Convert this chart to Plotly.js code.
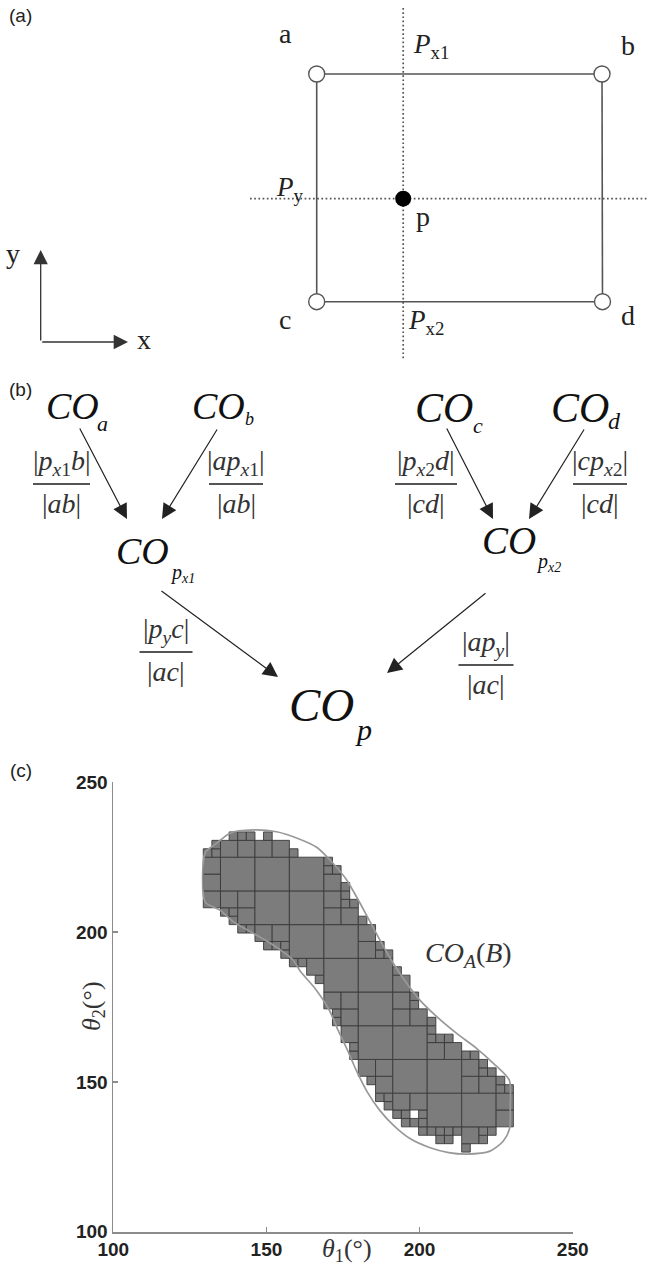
<!DOCTYPE html>
<html><head><meta charset="utf-8">
<script src="https://cdn.plot.ly/plotly-3.0.1.min.js"></script>
<style>html,body{margin:0;padding:0;background:#fff}</style>
</head><body>
<div id="chart" style="width:647px;height:1274px"></div>
<script>
// ================= DATA =================
// ---- Panel (a): grid cell corners, interpolation point (page units) ----
const cornerNames = ['a', 'b', 'c', 'd'];
const cornerX = [316.7, 602.0, 316.7, 602.5];
const cornerY = [74, 74, 301.7, 301.7];
const pointP = [403.2, 198.7];
const dottedVSpan = [8, 360];     // vertical dotted line extent (y)
const dottedHSpan = [250, 647];   // horizontal dotted line extent (x)
const labelTextA = ['a', 'b', 'c', 'd', 'p', '<i>P</i><sub>x1</sub>', '<i>P</i><sub>y</sub>', '<i>P</i><sub>x2</sub>', 'y', 'x'];
const labelXA = [285.5, 627.5, 285, 628, 422.5, 431, 290, 426, 13, 144];
const labelYA = [33, 45, 319, 315, 216, 46, 189, 322, 253, 339];
const axisOrigin = [40.7, 342];
const axisTips = [[40.7, 250], [128, 342]];

// ---- Panel (b): interpolation tree ----
const coLeft = [45, 191, 414, 550, 115, 481, 288];
const coMidY = [405.5, 405.5, 408, 408, 551, 540, 705];
const coSize = [38, 38, 42, 42, 38, 39, 47];
const subText = ['a', 'b', 'c', 'd', '<i>p</i><sub><i>x</i>1</sub>', '<i>p</i><sub><i>x</i>2</sub>', '<i>p</i>'];
const subLeft = [96, 244, 472, 607, 169, 535, 354];
const subMidY = [423, 419, 425, 421, 573, 562, 729];
const subSize = [22, 18, 22, 24, 20, 20, 30];

const fracNum = ['|<i>p</i><sub><i>x</i>1</sub><i>b</i>|', '|<i>ap</i><sub><i>x</i>1</sub>|',
                 '|<i>p</i><sub><i>x</i>2</sub><i>d</i>|', '|<i>cp</i><sub><i>x</i>2</sub>|',
                 '|<i>p</i><sub><i>y</i></sub><i>c</i>|', '|<i>ap</i><sub><i>y</i></sub>|'];
const fracDen = ['|<i>ab</i>|', '|<i>ab</i>|', '|<i>cd</i>|', '|<i>cd</i>|', '|<i>ac</i>|', '|<i>ac</i>|'];
const fracX = [61.5, 236, 426, 600, 166, 486];
const fracLineY = [484, 484, 484, 484, 652, 665];
const fracHalfW = [28.5, 27, 31, 27, 26.5, 27.5];

const arrowTailX = [79, 218, 446, 585, 160, 487];
const arrowTailY = [427, 428, 427, 428, 590, 592];
const arrowHeadX = [127, 162, 493, 529, 278, 387];
const arrowHeadY = [519, 519, 519, 519, 677, 673];

// ---- Panel (c): configuration obstacle CO_A(B), theta1/theta2 in degrees ----
const CELL = 2.8125;               // finest cell size (deg)
const colLeft = [129.375,132.1875,135,137.8125,140.625,143.4375,146.25,149.0625,151.875,154.6875,
  157.5,160.3125,163.125,165.9375,168.75,171.5625,174.375,177.1875,180,182.8125,185.625,188.4375,
  191.25,194.0625,196.875,199.6875,202.5,205.3125,208.125,210.9375,213.75,216.5625,219.375,222.1875,225,227.8125];
const colTop = [227.8125,230.625,230.625,233.4375,233.4375,233.4375,230.625,233.4375,230.625,230.625,
  227.8125,225,225,225,225,222.1875,216.5625,210.9375,205.3125,202.5,196.875,194.0625,
  188.4375,185.625,180,174.375,171.5625,165.9375,165.9375,163.125,160.3125,160.3125,157.5,154.6875,151.875,149.0625];
const colBottom = [208.125,208.125,205.3125,202.5,199.6875,199.6875,196.875,194.0625,194.0625,191.25,
  188.4375,188.4375,185.625,182.8125,174.375,168.75,163.125,157.5,151.875,149.0625,143.4375,140.625,
  137.8125,135,135,132.1875,132.1875,129.375,129.375,132.1875,126.5625,129.375,129.375,132.1875,135,135];
const holes = [[198.28, 139.22]];
const outlineX = [130.0,133.7,138.1,145.7,153.3,160.9,166.4,171.8,176.2,180.0,183.8,187.6,191.4,195.8,200.1,205.6,
  212.1,218.6,224.1,229.3,229.6,229.4,227.3,223.0,215.4,209.5,203.0,197.0,191.5,187.0,183.0,179.5,176.5,173.5,
  170.5,166.0,161.0,158.7,152.2,145.7,139.1,134.8,130.0,130.0];
const outlineY = [226.5,229.6,233.0,234.1,233.5,231.0,228.3,222.9,217.4,210.7,203.5,196.3,189.6,182.9,177.3,171.8,
  166.2,161.2,156.2,150.6,141.7,134.5,130.2,126.9,125.9,126.4,128.2,131.0,135.5,140.5,146.5,153.5,160.5,167.0,
  174.0,181.0,187.0,190.7,195.7,199.6,203.5,207.4,210.0,226.5];
const tickVals = [100, 150, 200, 250];
const regionLabel = {x: 216.1, y: 192.4, text: '<i>CO</i><sub><i>A</i></sub>(<i>B</i>)'};

// ================= BUILD =================
const SERIF = 'Liberation Serif, Times New Roman, serif';
const SANS = 'Liberation Sans, Arial, sans-serif';
const shapes = [];
const annotations = [];
const lineCol = '#555';

// panel labels
[['(a)', 15.5], ['(b)', 389], ['(c)', 770]].forEach(([t, y]) => annotations.push({
  x: 20.5, y: y, xref: 'x', yref: 'y', text: t, showarrow: false,
  font: {family: SANS, size: 19, color: '#222'}, xanchor: 'center', yanchor: 'middle'
}));

// square edges a-b, c-d, a-c, b-d
[[0, 1], [2, 3], [0, 2], [1, 3]].forEach(([i, j]) => shapes.push({
  type: 'line', xref: 'x', yref: 'y', layer: 'below',
  x0: cornerX[i], y0: cornerY[i], x1: cornerX[j], y1: cornerY[j],
  line: {color: lineCol, width: 1.6}
}));
// dotted lines through p
shapes.push({type: 'line', xref: 'x', yref: 'y', layer: 'below',
  x0: pointP[0], x1: pointP[0], y0: dottedVSpan[0], y1: dottedVSpan[1],
  line: {color: '#555', width: 1.7, dash: '1.7px,2.5px'}});
shapes.push({type: 'line', xref: 'x', yref: 'y', layer: 'below',
  x0: dottedHSpan[0], x1: dottedHSpan[1], y0: pointP[1], y1: pointP[1],
  line: {color: '#555', width: 1.7, dash: '1.7px,2.5px'}});

labelTextA.forEach((t, i) => annotations.push({
  x: labelXA[i], y: labelYA[i], xref: 'x', yref: 'y', text: t, showarrow: false,
  font: {family: SERIF, size: (i >= 5 && i <= 7) ? 27 : 28, color: '#222'},
  xanchor: 'center', yanchor: 'middle', borderpad: 0
}));
axisTips.forEach(tip => annotations.push({
  x: tip[0], y: tip[1], ax: axisOrigin[0], ay: axisOrigin[1],
  xref: 'x', yref: 'y', axref: 'x', ayref: 'y', text: '', showarrow: true,
  arrowhead: 2, arrowsize: 2.2, arrowwidth: 1.3, arrowcolor: '#333', standoff: 0
}));

// panel (b)
coLeft.forEach((x, i) => {
  annotations.push({x: x, y: coMidY[i], xref: 'x', yref: 'y', text: '<i>CO</i>', showarrow: false,
    font: {family: SERIF, size: coSize[i], color: '#111'}, xanchor: 'left', yanchor: 'middle', borderpad: 0});
  annotations.push({x: subLeft[i], y: subMidY[i], xref: 'x', yref: 'y', text: '<i>' + subText[i] + '</i>', showarrow: false,
    font: {family: SERIF, size: subSize[i], color: '#111'}, xanchor: 'left', yanchor: 'middle', borderpad: 0});
});
fracX.forEach((x, i) => {
  shapes.push({type: 'line', xref: 'x', yref: 'y', x0: x - fracHalfW[i], x1: x + fracHalfW[i],
    y0: fracLineY[i], y1: fracLineY[i], line: {color: '#555', width: 1.8}});
  annotations.push({x: x, y: fracLineY[i] - 3, xref: 'x', yref: 'y', text: fracNum[i], showarrow: false,
    font: {family: SERIF, size: 28, color: '#333'}, xanchor: 'center', yanchor: 'bottom', borderpad: 0});
  annotations.push({x: x, y: fracLineY[i] + 3, xref: 'x', yref: 'y', text: fracDen[i], showarrow: false,
    font: {family: SERIF, size: 28, color: '#333'}, xanchor: 'center', yanchor: 'top', borderpad: 0});
});
arrowTailX.forEach((tx, i) => annotations.push({
  x: arrowHeadX[i], y: arrowHeadY[i], ax: tx, ay: arrowTailY[i],
  xref: 'x', yref: 'y', axref: 'x', ayref: 'y', text: '', showarrow: true,
  arrowhead: 2, arrowsize: 2.5, arrowwidth: 1.2, arrowcolor: '#222', standoff: 0
}));

// panel (c): quadtree of occupied cells
const idx = v => Math.round(v / CELL);
const filled = new Set();
colLeft.forEach((x, n) => {
  const i = idx(x), j0 = idx(colBottom[n]), j1 = idx(colTop[n]);
  for (let j = j0; j < j1; j++) filled.add(i + ',' + j);
});
holes.forEach(h => filled.delete(Math.floor(h[0] / CELL) + ',' + Math.floor(h[1] / CELL)));
const cells = [];
function quad(i0, j0, s) {
  let all = true, any = false;
  for (let i = i0; i < i0 + s; i++) for (let j = j0; j < j0 + s; j++) {
    if (filled.has(i + ',' + j)) any = true; else all = false;
  }
  if (all) { cells.push([i0, j0, s]); return; }
  if (!any || s === 1) return;
  const h = s / 2;
  quad(i0, j0, h); quad(i0 + h, j0, h); quad(i0, j0 + h, h); quad(i0 + h, j0 + h, h);
}
const iMin = idx(Math.min(...colLeft)), iMax = idx(Math.max(...colLeft));
const jMin = idx(Math.min(...colBottom)), jMax = idx(Math.max(...colTop));
for (let bi = Math.floor(iMin / 4) * 4; bi <= iMax; bi += 4)
  for (let bj = Math.floor(jMin / 4) * 4; bj <= jMax; bj += 4) quad(bi, bj, 4);
cells.forEach(([i, j, s]) => shapes.push({
  type: 'rect', xref: 'x2', yref: 'y2', layer: 'below',
  x0: i * CELL, x1: (i + s) * CELL, y0: j * CELL, y1: (j + s) * CELL,
  fillcolor: '#7c7c7c', line: {color: '#3a3a3a', width: 0.9}
}));

annotations.push({x: regionLabel.x, y: regionLabel.y, xref: 'x2', yref: 'y2', text: regionLabel.text,
  showarrow: false, font: {family: SERIF, size: 28, color: '#333'}, xanchor: 'center', yanchor: 'middle'});
annotations.push({x: 347, y: 1250, xref: 'x', yref: 'y', text: '<i>θ</i><sub>1</sub>(°)', showarrow: false,
  font: {family: SERIF, size: 26, color: '#333'}, xanchor: 'center', yanchor: 'middle'});
annotations.push({x: 93, y: 1006, xref: 'x', yref: 'y', text: '<i>θ</i><sub>2</sub>(°)', showarrow: false,
  textangle: -90, font: {family: SERIF, size: 26, color: '#333'}, xanchor: 'center', yanchor: 'middle'});

const traces = [
  {x: cornerX, y: cornerY, text: cornerNames, xaxis: 'x', yaxis: 'y', mode: 'markers', type: 'scatter',
   marker: {size: 16, color: '#fff', line: {color: '#555', width: 1.4}}, hoverinfo: 'skip'},
  {x: [pointP[0]], y: [pointP[1]], xaxis: 'x', yaxis: 'y', mode: 'markers', type: 'scatter',
   marker: {size: 16, color: '#000'}, hoverinfo: 'skip'},
  {x: outlineX, y: outlineY, xaxis: 'x2', yaxis: 'y2', mode: 'lines', type: 'scatter',
   line: {color: '#999', width: 1.7, shape: 'spline', smoothing: 0.7}, hoverinfo: 'skip'}
];

const axisStyle = {
  range: [100, 250], tickvals: tickVals, ticktext: tickVals.map(String),
  showline: true, linecolor: '#8c8c8c', linewidth: 1.8, ticks: 'inside', ticklen: 5,
  tickwidth: 1.3, tickcolor: '#8c8c8c', showgrid: false, zeroline: false, fixedrange: true,
  tickfont: {family: SANS, size: 19, color: '#222', weight: 'bold'}
};
const layout = {
  width: 647, height: 1274, margin: {l: 0, r: 0, t: 0, b: 0},
  paper_bgcolor: '#fff', plot_bgcolor: 'rgba(0,0,0,0)', showlegend: false, hovermode: false,
  xaxis: {domain: [0, 1], range: [0, 647], visible: false, fixedrange: true},
  yaxis: {domain: [0, 1], range: [1274, 0], visible: false, fixedrange: true},
  xaxis2: Object.assign({}, axisStyle, {domain: [113.3 / 647, 572.7 / 647], anchor: 'y2'}),
  yaxis2: Object.assign({}, axisStyle, {domain: [(1274 - 1231.7) / 1274, (1274 - 782.3) / 1274], anchor: 'x2'}),
  shapes: shapes, annotations: annotations
};
Plotly.newPlot('chart', traces, layout, {displayModeBar: false, staticPlot: true});
</script>
</body></html>
